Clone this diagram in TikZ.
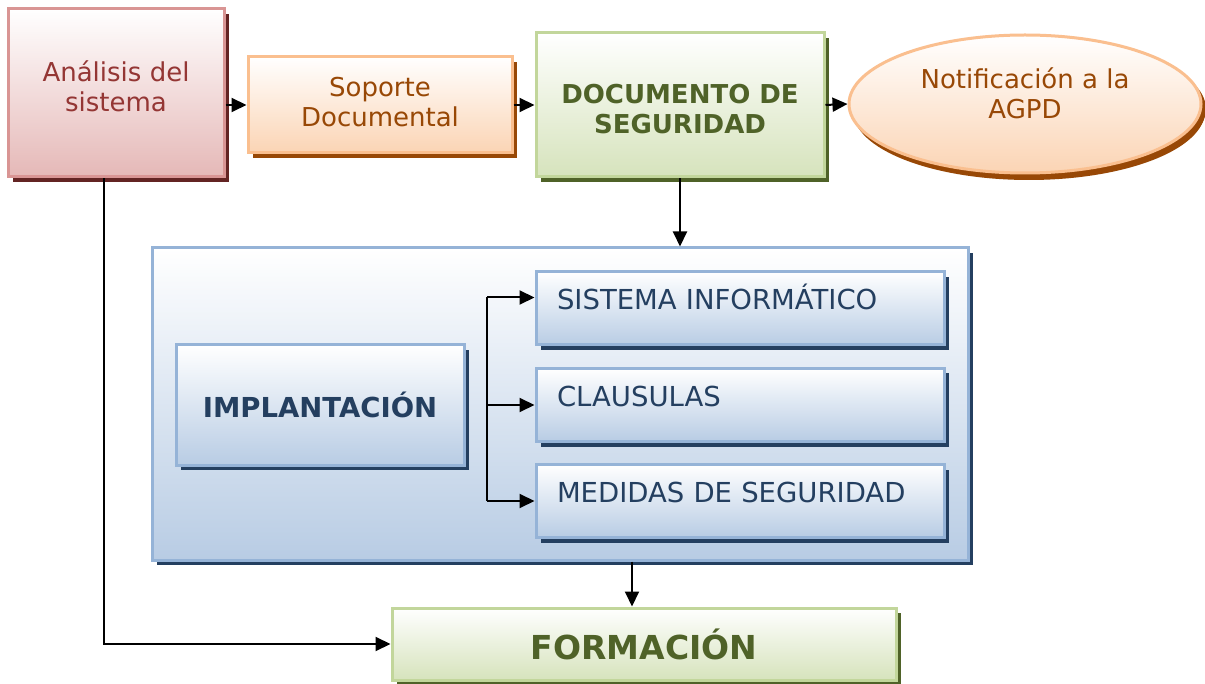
\documentclass[tikz,border=0pt]{standalone}
\usepackage{fontspec}
\setmainfont{DejaVu Sans}
\usetikzlibrary{positioning,arrows.meta,shadows,shapes.geometric}
\definecolor{redline}{HTML}{D99594}
\definecolor{redfill}{HTML}{E5B8B7}
\definecolor{redshade}{HTML}{632423}
\definecolor{redtext}{HTML}{943634}
\definecolor{orgline}{HTML}{FABF8F}
\definecolor{orgfill}{HTML}{FBD4B4}
\definecolor{orgshade}{HTML}{984806}
\definecolor{grnline}{HTML}{C2D69B}
\definecolor{grnfill}{HTML}{D6E3BC}
\definecolor{grnshade}{HTML}{4F6228}
\definecolor{bluline}{HTML}{95B3D7}
\definecolor{blufill}{HTML}{B8CCE4}
\definecolor{blushade}{HTML}{243F60}

\begin{document}
\begin{tikzpicture}[x=1pt, y=-1pt,
  every node/.style = {align=center, line width=3pt,
    font=\fontsize{26}{30}\selectfont},
  redbox/.style = {shape=rectangle, draw=redline, top color=white,
    bottom color=redfill, text=redtext,
    drop shadow={shadow xshift=5pt, shadow yshift=-5pt, opacity=1, fill=redshade}},
  orgbox/.style = {shape=rectangle, draw=orgline, top color=white,
    bottom color=orgfill, text=orgshade,
    drop shadow={shadow xshift=5pt, shadow yshift=-5pt, opacity=1, fill=orgshade}},
  grnbox/.style = {shape=rectangle, draw=grnline, top color=white,
    bottom color=grnfill, text=grnshade, font=\fontsize{26}{30}\selectfont\bfseries,
    drop shadow={shadow xshift=5pt, shadow yshift=-5pt, opacity=1, fill=grnshade}},
  blubox/.style = {shape=rectangle, draw=bluline, top color=white,
    bottom color=blufill, text=blushade,
    drop shadow={shadow xshift=5pt, shadow yshift=-5pt, opacity=1, fill=blushade}},
  itembox/.style = {blubox, font=\fontsize{27.5}{30}\selectfont,
    text width=366pt, align=left, inner xsep=21pt,
    inner ysep=0pt, text height=38pt, text depth=35pt},
  arr/.style = {-{Triangle[length=15pt,width=14pt]}, line width=2pt}]
  \useasboundingbox (0,0) rectangle (1205,684);

  % top row
  \node[redbox, minimum width=216pt, minimum height=168pt, text depth=13pt]
    (ana) at (116,93) {Análisis del\\ sistema};
  \node[orgbox, minimum width=264pt, minimum height=96pt, text depth=6pt]
    (sop) at (380,105) {Soporte\\ Documental};
  \node[grnbox, minimum width=288pt, minimum height=144pt, text height=58pt]
    (doc) at (680,105) {DOCUMENTO DE\\ SEGURIDAD};
  \node[orgbox, shape=ellipse, minimum width=352pt, minimum height=138pt,
    inner ysep=0pt, text depth=22pt,
    drop shadow={shadow xshift=4pt, shadow yshift=-7pt, opacity=1, fill=orgshade}]
    (not) at (1025,104) {Notificación a la\\ AGPD};

  % implantacion block
  \node[blubox, minimum width=816pt, minimum height=312pt] (imp) at (560,404) {};
  \node[blubox, font=\fontsize{27.5}{30}\selectfont\bfseries,
    minimum width=288pt, minimum height=120pt] (impl) at (320,405) {IMPLANTACIÓN};
  \node[itembox] (sis) at (740,308.5) {SISTEMA INFORMÁTICO};
  \node[itembox] (cla) at (740,405) {CLAUSULAS};
  \node[itembox] (med) at (740,501) {MEDIDAS DE SEGURIDAD};

  \node[grnbox, font=\fontsize{33}{36}\selectfont\bfseries,
    minimum width=504pt, minimum height=72pt] (for) at (644,644) {FORMACIÓN};

  % connectors
  \draw[arr] (sop.west -| ana.east) -- (sop.west);
  \draw[arr] (sop.east) -- (doc.west -| sop.east) -- (doc.west);
  \draw[arr] (doc.east) -- (not.west);
  \draw[arr] (doc.south) -- (doc.south |- imp.north);
  \coordinate (fork) at (487,405);
  \draw[line width=2pt] ([yshift=11pt]sis.west -| fork) -- (med.west -| fork);
  \draw[arr] ([yshift=11pt]sis.west -| fork) -- ([yshift=11pt]sis.west);
  \draw[arr] (cla.west -| fork) -- (cla.west);
  \draw[arr] (med.west -| fork) -- (med.west);
  \draw[arr] ([xshift=-12pt]for.north |- imp.south) -- ([xshift=-12pt]for.north);
  \draw[arr] ([xshift=-12pt]ana.south) |- (for.west);
\end{tikzpicture}
\end{document}
